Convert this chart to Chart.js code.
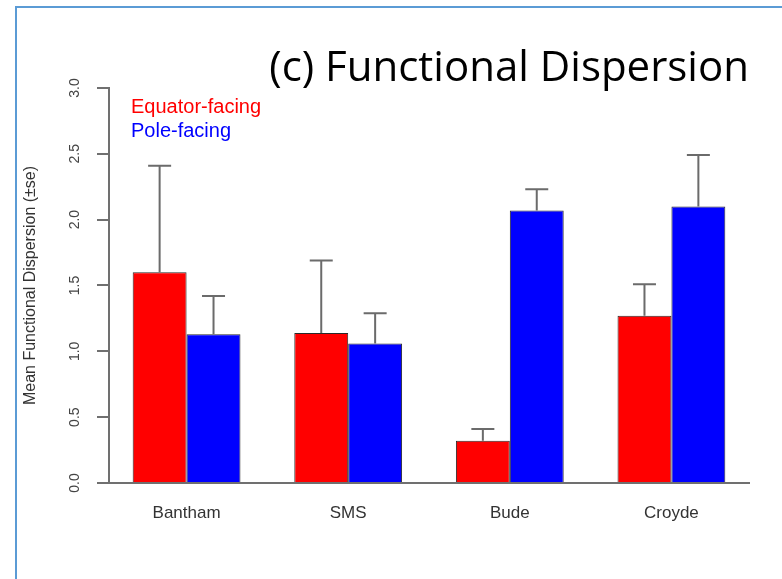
<!DOCTYPE html>
<html>
<head>
<meta charset="utf-8">
<script src="https://cdn.jsdelivr.net/npm/chart.js@4.4.1/dist/chart.umd.min.js"></script>
<style>
  html, body { margin: 0; padding: 0; background: #fff; }
  #wrap { position: relative; width: 782px; height: 579px; overflow: hidden; }
  #frame { position: absolute; left: 15px; top: 6px; width: 800px; height: 600px;
           border-left: 2px solid #5b9bd5; border-top: 2px solid #5b9bd5; }
  canvas { position: absolute; left: 0; top: 0; }
</style>
</head>
<body>
<div id="wrap">
  <div id="frame"></div>
  <canvas id="chart" width="782" height="579"></canvas>
</div>
<script>
// Sites along the x axis
const sites = ['Bantham', 'SMS', 'Bude', 'Croyde'];
// Mean functional dispersion and standard error per aspect
const equatorMean = [1.60, 1.14, 0.32, 1.27];
const equatorSE   = [0.81, 0.55, 0.09, 0.24];
const poleMean    = [1.13, 1.06, 2.07, 2.10];
const poleSE      = [0.29, 0.23, 0.16, 0.39];
// y axis tick values
const yTicks = [0, 0.5, 1.0, 1.5, 2.0, 2.5, 3.0];

const AXIS_GREY = '#707070';

// Upper-only error whiskers with a short cap
const errorBars = {
  id: 'errorBars',
  afterDatasetsDraw(chart) {
    const { ctx } = chart;
    const y = chart.scales.y;
    ctx.save();
    ctx.strokeStyle = '#6b6b6b';
    ctx.lineWidth = 2;
    chart.data.datasets.forEach((ds, di) => {
      const meta = chart.getDatasetMeta(di);
      meta.data.forEach((bar, i) => {
        const top = y.getPixelForValue(ds.data[i].y + ds.se[i]);
        ctx.beginPath();
        ctx.moveTo(bar.x, bar.y);
        ctx.lineTo(bar.x, top);
        ctx.moveTo(bar.x - 11.5, top);
        ctx.lineTo(bar.x + 11.5, top);
        ctx.stroke();
      });
    });
    ctx.restore();
  }
};

// Text-only key in the top-left corner of the plot
const textKey = {
  id: 'textKey',
  afterDraw(chart) {
    const { ctx, chartArea } = chart;
    ctx.save();
    ctx.font = '20px "Liberation Sans", Arial, sans-serif';
    ctx.textAlign = 'left';
    ctx.textBaseline = 'alphabetic';
    chart.data.datasets.forEach((ds, i) => {
      ctx.fillStyle = ds.backgroundColor;
      ctx.fillText(ds.label, chartArea.left + 22, chartArea.top + 25 + i * 24);
    });
    ctx.restore();
  }
};

const toPoints = arr => arr.map((v, i) => ({ x: i, y: v }));

new Chart(document.getElementById('chart'), {
  type: 'bar',
  data: {
    datasets: [
      { label: 'Equator-facing', data: toPoints(equatorMean), se: equatorSE,
        backgroundColor: '#ff0000', borderColor: '#2a2a2a', borderWidth: 1 },
      { label: 'Pole-facing', data: toPoints(poleMean), se: poleSE,
        backgroundColor: '#0000ff', borderColor: '#2a2a2a', borderWidth: 1 }
    ]
  },
  options: {
    responsive: false,
    animation: false,
    devicePixelRatio: 1,
    categoryPercentage: 0.667,
    barPercentage: 1.0,
    layout: { padding: { top: 51, left: 17, right: 33, bottom: 0 } },
    plugins: {
      legend: { display: false },
      tooltip: { enabled: false },
      title: {
        display: true,
        text: '(c) Functional Dispersion',
        align: 'end',
        color: '#000',
        font: { family: '"Open Sans", sans-serif', size: 42, weight: 'normal', lineHeight: 0.88 },
        padding: { top: 0, bottom: 0 }
      }
    },
    scales: {
      x: {
        type: 'linear',
        min: -0.48,
        max: 3.48,
        offset: false,
        afterFit: s => { s.height = 96; },
        grid: { display: false },
        border: { display: true, color: AXIS_GREY, width: 2 },
        ticks: {
          stepSize: 1,
          includeBounds: false,
          padding: 12,
          color: '#333',
          font: { family: '"Liberation Sans", Arial, sans-serif', size: 17 },
          callback: v => sites[Math.round(v)] ?? ''
        }
      },
      y: {
        min: 0,
        max: 3,
        afterFit: s => { s.width = 92; },
        afterBuildTicks: s => { s.ticks = yTicks.map(v => ({ value: v })); },
        grid: { drawOnChartArea: false, drawTicks: true, tickLength: 12, color: AXIS_GREY, lineWidth: 2 },
        border: { display: true, color: AXIS_GREY, width: 2 },
        ticks: {
          minRotation: 90,
          maxRotation: 90,
          crossAlign: 'center',
          padding: 12,
          color: '#444',
          font: { family: '"Liberation Sans", Arial, sans-serif', size: 14 },
          callback: v => Number(v).toFixed(1)
        },
        title: {
          display: true,
          text: 'Mean Functional Dispersion (\u00b1se)',
          color: '#333',
          font: { family: '"Liberation Sans", Arial, sans-serif', size: 16 },
          padding: { top: 4, bottom: 4 }
        }
      }
    }
  },
  plugins: [errorBars, textKey]
});
</script>
</body>
</html>
